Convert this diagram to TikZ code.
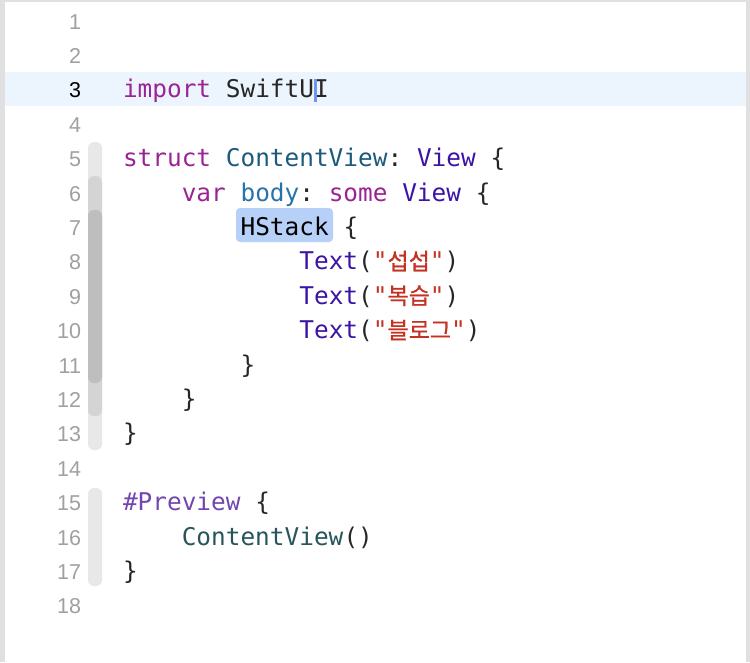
\documentclass[tikz,border=0pt]{standalone}
\usepackage{fontspec}
\usepackage{tikz}
\usetikzlibrary{positioning}
\usepackage{xcolor}
\setmonofont{DejaVu Sans Mono}
\newfontfamily\numfont{Liberation Sans}
\newfontfamily\krfont[FakeBold=0.8]{Noto Sans CJK KR}
\definecolor{kwcolor}{RGB}{155, 35, 147}
\definecolor{typecolor}{RGB}{28, 90, 125}
\definecolor{declcolor}{RGB}{40, 115, 170}
\definecolor{classcolor}{RGB}{60, 20, 165}
\definecolor{strcolor}{RGB}{196, 50, 35}
\definecolor{macrocolor}{RGB}{115, 70, 175}
\definecolor{projcolor}{RGB}{40, 85, 90}
\definecolor{plaincolor}{RGB}{38, 38, 38}
\definecolor{numcolor}{RGB}{160, 160, 160}
\definecolor{bandcolor}{RGB}{236, 244, 254}
\definecolor{selcolor}{RGB}{183, 208, 248}
\definecolor{cursorcolor}{RGB}{110, 150, 240}
\definecolor{foldone}{RGB}{232, 232, 232}
\definecolor{foldtwo}{RGB}{212, 212, 212}
\definecolor{foldthree}{RGB}{190, 190, 190}
\definecolor{framecolor}{RGB}{224, 224, 224}
\tikzset{
  code/.style={inner sep=0pt, outer sep=0pt, anchor=base west,
    font=\ttfamily\fontsize{24.4}{28}\selectfont},
  lnum/.style={inner sep=0pt, outer sep=0pt, anchor=base east,
    font=\numfont\fontsize{21.5}{24}\selectfont},
}
\newcommand{\tok}[5]{\node[code,text=#1] (#2) at ({123+14.7*#3},{29+34.4*(#4-1)}) {#5};}

\begin{document}
\begin{tikzpicture}[x=1pt,y=-1pt]
    \useasboundingbox (0,0) rectangle (750,662);
    \fill[white] (0,0) rectangle (750,662);
    \fill[framecolor] (0,0) rectangle (5,662);
    \fill[framecolor] (0,0) rectangle (750,2);
    \fill[framecolor] (746,0) rectangle (750,662);
    \fill[bandcolor] (5,72) rectangle (746,106);
    \fill[selcolor,rounded corners=4pt] (236,208) rectangle (333,242);
    % fold ribbon
    \fill[foldone,rounded corners=6pt] (88,142) rectangle (102,450);
    \fill[foldtwo,rounded corners=6pt] (88,176) rectangle (102,416);
    \fill[foldthree,rounded corners=6pt] (88,210) rectangle (102,383);
    \fill[foldone,rounded corners=6pt] (88,488) rectangle (102,586);
    % line numbers
    \foreach \n in {1,2,4,5,...,18}
        \node[lnum,text=numcolor] (n\n) at (81,{29+34.4*(\n-1)}) {\n};
    \node[lnum,text=black] (n3) at (81,97.8) {3};
    % code
    \tok{kwcolor}{import}{0}{3}{import}
    \tok{plaincolor}{swift}{7}{3}{SwiftUI}
    \fill[cursorcolor] (314,79) rectangle (317,102);
    \tok{kwcolor}{struct}{0}{5}{struct}
    \tok{typecolor}{cview}{7}{5}{ContentView}
    \tok{plaincolor}{colon5}{18}{5}{:}
    \tok{classcolor}{view5}{20}{5}{View}
    \tok{plaincolor}{open5}{25}{5}{\{}
    \tok{kwcolor}{var}{4}{6}{var}
    \tok{declcolor}{body}{8}{6}{body}
    \tok{plaincolor}{colon6}{12}{6}{:}
    \tok{kwcolor}{some}{14}{6}{some}
    \tok{classcolor}{view6}{19}{6}{View}
    \tok{plaincolor}{open6}{24}{6}{\{}
    \tok{black}{hstack}{8}{7}{HStack}
    \tok{plaincolor}{open7}{15}{7}{\{}
    \foreach \n/\w in {8/섭섭, 9/복습, 10/블로그} {
        \tok{classcolor}{text\n}{12}{\n}{Text}
        \tok{plaincolor}{lp\n}{16}{\n}{(}
        \node[code,text=strcolor] (str\n) at (lp\n.base east) {"{\krfont\fontsize{23}{28}\selectfont\w}"};
        \node[code,text=plaincolor] (rp\n) at (str\n.base east) {)};
    }
    \tok{plaincolor}{close11}{8}{11}{\}}
    \tok{plaincolor}{close12}{4}{12}{\}}
    \tok{plaincolor}{close13}{0}{13}{\}}
    \tok{macrocolor}{preview}{0}{15}{\#Preview}
    \tok{plaincolor}{open15}{9}{15}{\{}
    \tok{projcolor}{cview16}{4}{16}{ContentView}
    \tok{plaincolor}{call16}{15}{16}{()}
    \tok{plaincolor}{close17}{0}{17}{\}}
\end{tikzpicture}
\end{document}
